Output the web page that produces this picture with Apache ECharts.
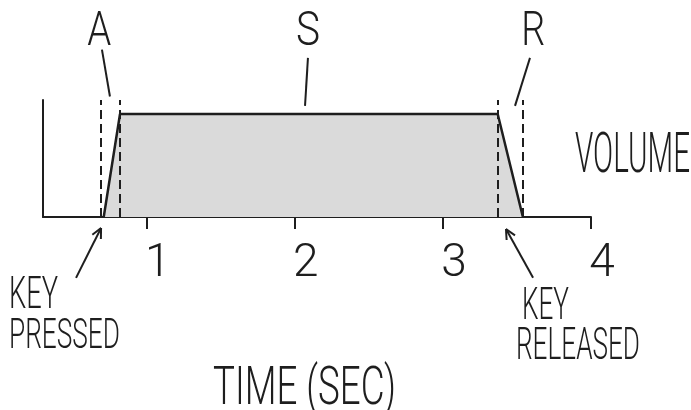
<!DOCTYPE html>
<html>
<head>
<meta charset="utf-8">
<script src="https://cdn.jsdelivr.net/npm/echarts@6/dist/echarts.min.js"></script>
<style>
  html, body { margin: 0; padding: 0; background: #fff; }
  #main { width: 691px; height: 410px; }
</style>
</head>
<body>
<div id="main"></div>
<script>
// time axis (seconds)
const timeTicks = [1, 2, 3, 4];
// ASR envelope: key pressed -> attack top -> release start -> silence
const envelopeTime = [0.71, 0.82, 3.37, 3.54];
const envelopeLevel = [0, 0.88, 0.88, 0];
// dashed phase boundaries
const phaseBounds = [0.69, 0.82, 3.37, 3.54];
// phase labels and their leader lines [time, level]
const phaseNames = ['A', 'S', 'R'];
const phaseNameAt = [[0.68, 1.57], [2.09, 1.57], [3.61, 1.57]];
const leaderFrom = [[0.698, 1.43], [2.089, 1.36], [3.588, 1.36]];
const leaderTo = [[0.752, 1.03], [2.069, 0.95], [3.487, 0.95]];
// arrows for key events [tail, tip]
const keyArrows = [
  [[0.523, -0.52], [0.692, -0.094]],
  [[3.609, -0.52], [3.426, -0.103]]
];

const ink = '#1e1e1e';
const handFont = 'Roboto, "DejaVu Sans", sans-serif';

const chart = echarts.init(document.getElementById('main'));

chart.setOption({
  animation: false,
  backgroundColor: '#fff',
  grid: { left: 43, right: 100, top: 100, bottom: 193, outerBoundsMode: 'none' },
  xAxis: {
    type: 'value',
    min: 0.3,
    max: 4,
    splitLine: { show: false },
    axisLine: { lineStyle: { color: ink, width: 2 } },
    axisTick: { customValues: timeTicks, length: 12, lineStyle: { color: ink, width: 2 } },
    axisLabel: {
      customValues: timeTicks,
      margin: 24,
      fontSize: 46,
      fontWeight: 300,
      fontFamily: handFont,
      color: ink,
      padding: [0, 0, 0, 22]
    }
  },
  yAxis: {
    type: 'value',
    min: 0,
    max: 1,
    axisLine: { show: true, lineStyle: { color: ink, width: 2 } },
    axisTick: { show: false },
    axisLabel: { show: false },
    splitLine: { show: false }
  },
  series: [{
    type: 'line',
    data: envelopeTime.map((t, i) => [t, envelopeLevel[i]]),
    symbol: 'none',
    lineStyle: { color: ink, width: 2.5 },
    areaStyle: { color: '#dadada', opacity: 1 },
    markLine: {
      silent: true,
      symbol: 'none',
      label: { show: false },
      lineStyle: { type: [9, 5], color: ink, width: 2 },
      data: phaseBounds.map(t => ({ xAxis: t }))
    }
  }]
});

// annotations
const px = p => chart.convertToPixel({ gridIndex: 0 }, p);
const ctx = document.createElement('canvas').getContext('2d');
function scaleFor(text, size, width) {
  ctx.font = '300 ' + size + 'px ' + handFont;
  return width / ctx.measureText(text).width;
}
function label(text, x, y, size, width, align) {
  return {
    type: 'text',
    x: x, y: y,
    scaleX: scaleFor(text, size, width),
    style: {
      text: text, fill: ink,
      font: '300 ' + size + 'px ' + handFont,
      align: align, verticalAlign: 'middle'
    }
  };
}
function line(a, b) {
  return { type: 'line', shape: { x1: a[0], y1: a[1], x2: b[0], y2: b[1] },
    style: { stroke: ink, lineWidth: 2 } };
}
function arrow(tail, tip) {
  const a = px(tail), b = px(tip);
  const ang = Math.atan2(a[1] - b[1], a[0] - b[0]);
  const h = 11, spread = 0.45;
  const l = [b[0] + h * Math.cos(ang + spread), b[1] + h * Math.sin(ang + spread)];
  const r = [b[0] + h * Math.cos(ang - spread), b[1] + h * Math.sin(ang - spread)];
  return [line(a, b), line(b, l), line(b, r)];
}

const graphics = [];
phaseNames.forEach((n, i) => {
  const p = px(phaseNameAt[i]);
  graphics.push(label(n, p[0], p[1], 48, 24, 'center'));
  graphics.push(line(px(leaderFrom[i]), px(leaderTo[i])));
});
keyArrows.forEach(a => graphics.push(...arrow(a[0], a[1])));
graphics.push(label('VOLUME', 575, 158, 56, 115, 'left'));
graphics.push(label('KEY', 9, 297, 44, 49, 'left'));
graphics.push(label('PRESSED', 9, 337, 42, 111, 'left'));
graphics.push(label('KEY', 522, 308, 45, 47, 'left'));
graphics.push(label('RELEASED', 516, 348, 45, 124, 'left'));
graphics.push(label('TIME (SEC)', 213, 391, 53, 183, 'left'));

chart.setOption({ graphic: graphics });
</script>
</body>
</html>
